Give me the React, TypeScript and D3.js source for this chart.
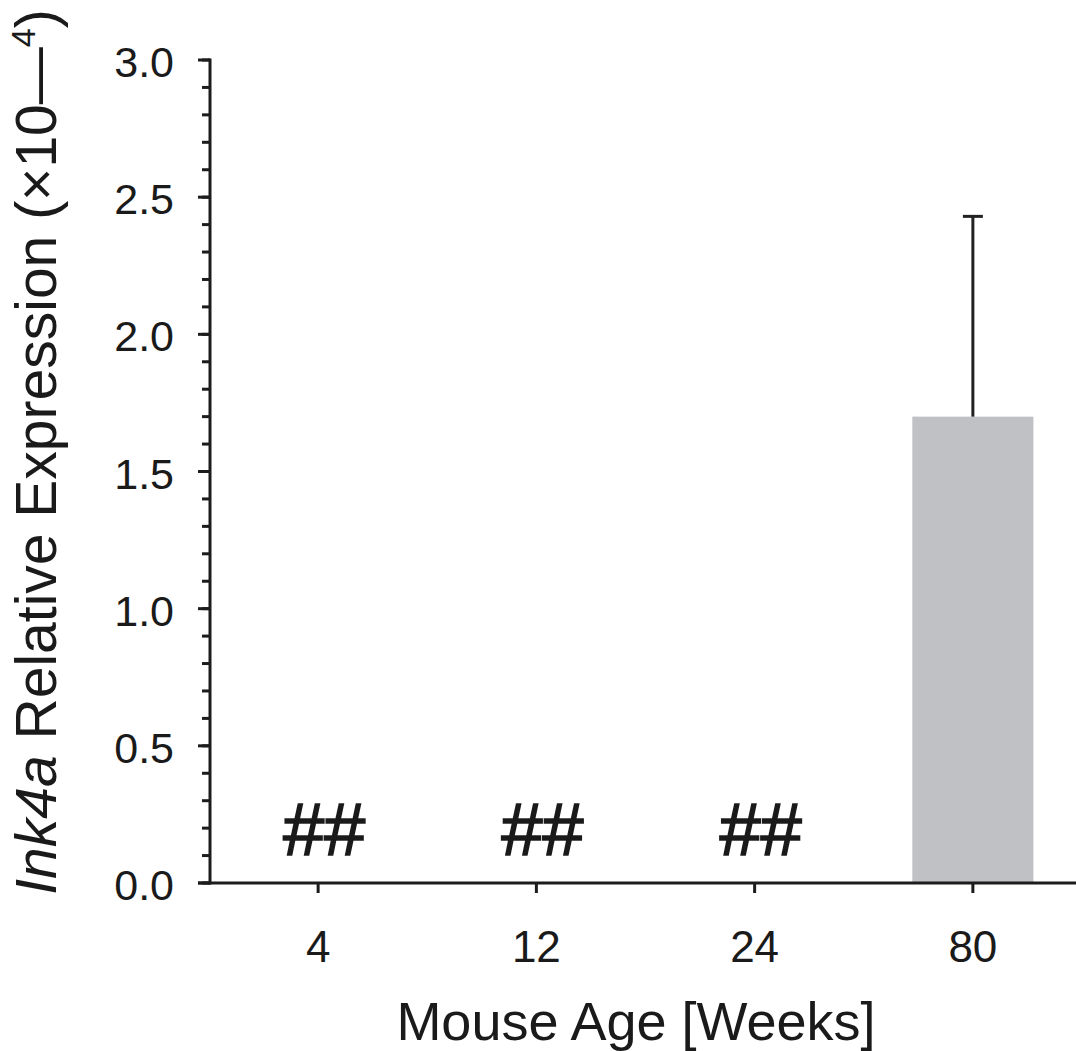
import React, { useEffect } from "react";
import * as d3 from "d3";

const categories = ["4", "12", "24", "80"];
const means = [0, 0, 0, 1.7];
const errors = [0, 0, 0, 0.73];
const markers = ["##", "##", "##", ""];
const yMajorTicks = [0, 0.5, 1.0, 1.5, 2.0, 2.5, 3.0];
const yMinorTicks = d3.range(0, 31).map((d) => d / 10);

const W = 1076;
const H = 1051;
const FONT = "'Liberation Sans', Arial, Helvetica, sans-serif";

export default function App() {
  useEffect(() => {
    document.body.style.margin = "0";
  }, []);

  const x0 = 209;
  const x1 = 1082;
  const y0 = 883;
  const yTop = 60;
  const x = d3
    .scaleBand<string>()
    .domain(categories)
    .range([x0, x1])
    .paddingInner(0.445)
    .paddingOuter(0.2225);
  const y = d3.scaleLinear().domain([0, 3]).range([y0, yTop]);
  const axisColor = "#1c1c1c";

  return (
    <svg width={W} height={H} style={{ display: "block", background: "#fff" }}>
      {categories.map((c, i) => (
        <rect
          key={"bar" + c}
          x={x(c)!}
          y={y(means[i])}
          width={x.bandwidth()}
          height={y0 - y(means[i])}
          fill="#c0c1c4"
        />
      ))}
      {categories.map((c, i) => {
        if (!errors[i]) return null;
        const cx = x(c)! + x.bandwidth() / 2;
        const top = y(means[i] + errors[i]);
        return (
          <g key={"err" + c} stroke="#222" strokeWidth={3}>
            <line x1={cx} x2={cx} y1={y(means[i])} y2={top} />
            <line x1={cx - 10} x2={cx + 10} y1={top} y2={top} />
          </g>
        );
      })}
      {categories.map((c, i) =>
        markers[i] ? (
          <text
            key={"mk" + c}
            x={x(c)! + x.bandwidth() / 2 + 5}
            y={855}
            textAnchor="middle"
            fontFamily={FONT}
            fontStyle="italic"
            fontSize={74}
            fill="#1a1a1a"
            stroke="#1a1a1a"
            strokeWidth={1.6}
          >
            {markers[i]}
          </text>
        ) : null
      )}
      <line x1={210} x2={210} y1={yTop - 1.5} y2={y0 + 1.5} stroke={axisColor} strokeWidth={3} />
      {yMinorTicks.map((t) => (
        <line key={"mi" + t} x1={202} x2={210} y1={y(t)} y2={y(t)} stroke={axisColor} strokeWidth={3} />
      ))}
      {yMajorTicks.map((t) => (
        <g key={"ma" + t}>
          <line x1={198} x2={210} y1={y(t)} y2={y(t)} stroke={axisColor} strokeWidth={3} />
          <text
            x={174}
            y={y(t) + 17}
            textAnchor="end"
            fontFamily={FONT}
            fontSize={43}
            fill="#1a1a1a"
          >
            {t.toFixed(1)}
          </text>
        </g>
      ))}
      <line x1={198} x2={W} y1={y0} y2={y0} stroke={axisColor} strokeWidth={3} />
      {categories.map((c) => {
        const cx = x(c)! + x.bandwidth() / 2;
        return (
          <g key={"xt" + c}>
            <line x1={cx} x2={cx} y1={y0} y2={y0 + 10} stroke={axisColor} strokeWidth={3} />
            <text x={cx} y={962} textAnchor="middle" fontFamily={FONT} fontSize={44} fill="#1a1a1a">
              {c}
            </text>
          </g>
        );
      })}
      <text x={636} y={1040} textAnchor="middle" fontFamily={FONT} fontSize={54} fill="#1a1a1a">
        Mouse Age [Weeks]
      </text>
      <text
        transform="translate(56,452) rotate(-90)"
        textAnchor="middle"
        fontFamily={FONT}
        fontSize={57}
        fill="#1a1a1a"
      >
        <tspan fontStyle="italic">Ink4a</tspan>
        <tspan> Relative Expression (×10—</tspan>
        <tspan fontSize={34} dy={-21}>4</tspan>
        <tspan dy={21}>)</tspan>
      </text>
    </svg>
  );
}
